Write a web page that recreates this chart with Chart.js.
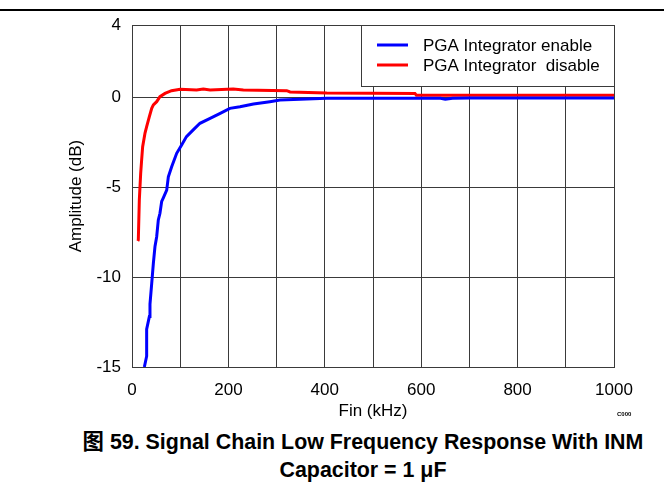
<!DOCTYPE html>
<html lang="en">
<head>
    <meta charset="UTF-8">
    <title>Signal Chain Low Frequency Response</title>
    <script src="https://cdn.jsdelivr.net/npm/chart.js"></script>
    <style>
        body { margin: 0; background: #fff; width: 664px; height: 485px; position: relative; overflow: hidden; }
        .top-rule { position: absolute; left: 0; top: 9px; width: 664px; height: 2px; background: #000; }
        #chart { position: absolute; left: 0; top: 0; }
        .caption {
            position: absolute; left: 63px; top: 428px; width: 600px;
            text-align: center; font: bold 21.4px "Liberation Sans", Arial, "Noto Sans CJK SC", sans-serif;
            line-height: 28px; color: #000;
        }
        .tag { position: absolute; left: 617px; top: 411px; font: bold 6px "Liberation Sans", Arial, sans-serif; color: #000; }
    </style>
</head>
<body>
    <div class="top-rule"></div>
    <canvas id="chart" width="664" height="422"></canvas>
    <div class="tag">C000</div>
    <div class="caption">图 59. Signal Chain Low Frequency Response With INM<br>Capacitor = 1 μF</div>

    <script>
        // values (kHz, dB)
        const enableFreq = [25.6, 30.4, 30.4, 36, 37.3, 40.9, 44.3, 47.7, 51.2, 54.6, 58, 61.6, 65, 72, 75.4, 82.3, 92.7, 103, 113, 127, 141, 162, 183, 203, 224, 252, 286, 307, 349, 404, 500, 640, 650, 665, 700, 800, 900, 1000];
        const enableGain = [-15, -14.4, -12.9, -12.2, -11.5, -10.35, -9.24, -8.3, -7.76, -6.83, -6.46, -5.8, -5.6, -5.17, -4.43, -3.87, -3.13, -2.67, -2.2, -1.83, -1.46, -1.19, -0.91, -0.63, -0.54, -0.39, -0.26, -0.17, -0.13, -0.07, -0.07, -0.07, -0.12, -0.07, -0.05, -0.05, -0.05, -0.05];

        const disableFreq = [12, 13.1, 15.2, 18, 20, 22.1, 27, 30.4, 36, 40.9, 44.3, 51.2, 58, 68.5, 82, 100, 134, 148, 162, 210, 231, 321, 328, 404, 587, 590, 700, 800, 900, 1000];
        const disableGain = [-8, -7.94, -5.72, -4.24, -3.5, -2.76, -2.0, -1.65, -1.09, -0.63, -0.44, -0.26, 0.02, 0.2, 0.35, 0.43, 0.39, 0.44, 0.39, 0.44, 0.39, 0.35, 0.28, 0.22, 0.2, 0.1, 0.1, 0.1, 0.1, 0.1];

        const seriesLabels = ['PGA Integrator enable', 'PGA Integrator  disable'];
        const seriesColors = ['#0000ff', '#ff0000'];
        const yTicks = [-15, -10, -5, 0, 4];

        const toPoints = (xs, ys) => xs.map((x, i) => ({ x: x, y: ys[i] }));

        const gridColor = '#3a3a3a';
        const font = { family: '"Liberation Sans", Arial, sans-serif', size: 17 };

        // legend drawn as a boxed panel in the top-right corner of the plot
        const boxLegend = {
            id: 'boxLegend',
            afterDatasetsDraw(chart) {
                const { ctx, chartArea } = chart;
                const w = 253, h = 61;
                const x0 = chartArea.right - w, y0 = chartArea.top;
                ctx.save();
                ctx.fillStyle = '#fff';
                ctx.fillRect(x0, y0, w, h);
                ctx.strokeStyle = gridColor;
                ctx.lineWidth = 1;
                ctx.strokeRect(x0 + 0.5, y0 + 0.5, w, h);
                ctx.font = font.size + 'px ' + font.family;
                ctx.textBaseline = 'middle';
                ctx.fillStyle = '#000';
                chart.data.datasets.forEach((ds, i) => {
                    const yy = y0 + 20 + i * 20;
                    ctx.strokeStyle = ds.borderColor;
                    ctx.lineWidth = 3;
                    ctx.beginPath();
                    ctx.moveTo(x0 + 16, yy);
                    ctx.lineTo(x0 + 47, yy);
                    ctx.stroke();
                    ctx.fillText(ds.label, x0 + 62, yy + 1);
                });
                ctx.restore();
            }
        };

        new Chart(document.getElementById('chart'), {
            type: 'scatter',
            data: {
                datasets: [
                    {
                        label: seriesLabels[0],
                        data: toPoints(enableFreq, enableGain),
                        borderColor: seriesColors[0],
                        showLine: true,
                        borderWidth: 3,
                        pointRadius: 0
                    },
                    {
                        label: seriesLabels[1],
                        data: toPoints(disableFreq, disableGain),
                        borderColor: seriesColors[1],
                        showLine: true,
                        borderWidth: 3,
                        pointRadius: 0
                    }
                ]
            },
            options: {
                responsive: false,
                animation: false,
                layout: { padding: { left: 66, top: 25, right: 50, bottom: 0 } },
                plugins: {
                    legend: { display: false },
                    tooltip: { enabled: false }
                },
                scales: {
                    x: {
                        type: 'linear',
                        min: 0,
                        max: 1000,
                        afterFit: s => { s.height = 55; },
                        grid: { color: gridColor, drawTicks: false },
                        border: { color: gridColor },
                        ticks: {
                            stepSize: 100,
                            autoSkip: false,
                            maxRotation: 0,
                            padding: 13,
                            color: '#000',
                            font: font,
                            callback: v => (v % 200 === 0 ? v : '')
                        },
                        title: { display: true, text: 'Fin (kHz)', color: '#000', font: font, padding: 0 }
                    },
                    y: {
                        min: -15,
                        max: 4,
                        afterBuildTicks: axis => { axis.ticks = yTicks.map(v => ({ value: v })); },
                        afterFit: s => { s.width = 66; },
                        grid: { color: gridColor, drawTicks: false },
                        border: { color: gridColor },
                        ticks: { padding: 11, color: '#000', font: font },
                        title: { display: true, text: 'Amplitude (dB)', color: '#000', font: font, padding: 0 }
                    }
                }
            },
            plugins: [boxLegend]
        });
    </script>
</body>
</html>
